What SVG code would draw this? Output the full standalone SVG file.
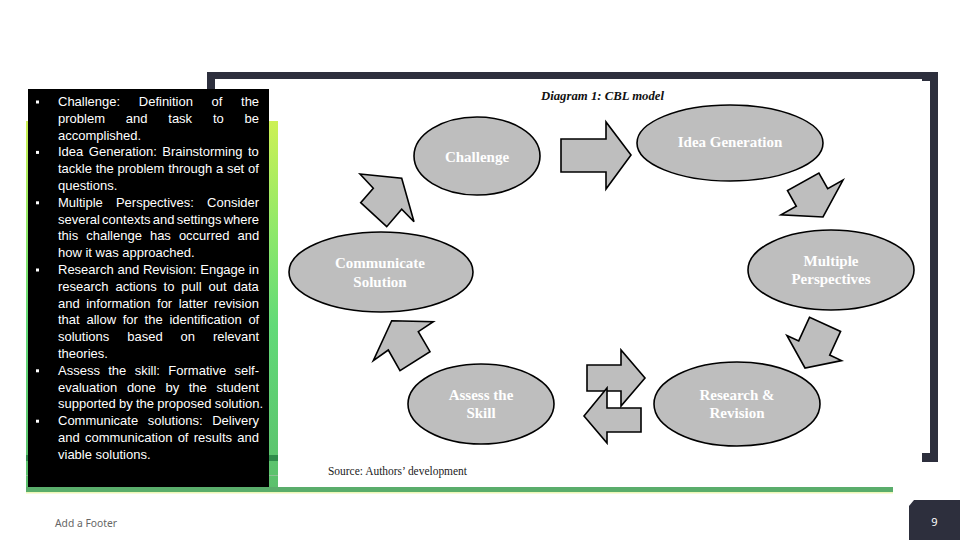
<svg xmlns="http://www.w3.org/2000/svg" width="960" height="540" viewBox="0 0 960 540">
  <defs>
    <linearGradient id="gr" x1="0" y1="0" x2="0" y2="1">
      <stop offset="0" stop-color="#cdf155"/>
      <stop offset="0.3" stop-color="#8ee86a"/>
      <stop offset="0.55" stop-color="#62da78"/>
      <stop offset="1" stop-color="#5bbf6c"/>
    </linearGradient>
    <style>
      .node ellipse { fill: #bebebe; stroke: #000; stroke-width: 1.6; }
      .node text { font-family: "Liberation Serif", serif; font-weight: bold; font-size: 15px; fill: #fff; text-anchor: middle; }
      .arr { fill: #bebebe; stroke: #000; stroke-width: 1.6; stroke-linejoin: miter; }
      .bl { font-family: "Liberation Sans", Arial, sans-serif; font-size: 13px; fill: #fff; }
      .bul { fill: #fff; }
      .frame { fill: #2d2f3d; }
    </style>
  </defs>
  <rect width="960" height="540" fill="#fff"/>

  <!-- green decorative panel -->
  <rect x="26" y="121" width="867" height="371" fill="url(#gr)"/>
  <rect x="26" y="455" width="867" height="6" fill="#2f8c4b"/>
  <rect x="26" y="475" width="867" height="1" fill="#8fbf95"/>
  <rect x="26" y="487" width="867" height="5" fill="#5aad6b"/>
  <rect x="26" y="492" width="867" height="1.5" fill="#eef7b8"/>

  <!-- dark frame -->
  <g id="frame" class="frame">
    <rect x="207" y="72" width="731" height="7"/>
    <rect x="207" y="72" width="8" height="390"/>
    <rect x="930" y="72" width="8" height="390"/>
    <rect x="922" y="453" width="16" height="9"/>
    <rect x="922" y="72" width="16" height="9"/>
  </g>

  <!-- picture -->
  <rect x="278" y="80" width="644" height="407" fill="#fff"/>
  <text x="602.5" y="100" font-family="Liberation Serif, serif" font-weight="bold" font-style="italic" font-size="13" fill="#111" text-anchor="middle" textLength="123" lengthAdjust="spacingAndGlyphs">Diagram 1: CBL model</text>
  <text x="328" y="475" font-family="Liberation Serif, serif" font-size="11.5" fill="#222" textLength="139" lengthAdjust="spacingAndGlyphs">Source: Authors’ development</text>

  <g id="connectors">
    <polygon class="arr" points="561,139 606,139 606,122 631,155 606,189 606,172 561,172"/>
    <polygon class="arr" points="787.5,190.6 796.3,206.3 781,214.9 823,217 843,180.1 827.7,188.7 818.9,173"/>
    <polygon class="arr" points="809.6,317.2 798.7,340.9 786.9,335.4 805,368 841.5,360.6 829.7,355.1 840.6,331.4"/>
    <polygon class="arr" points="587,365 621,365 621,350 645,378 621,406 621,391 587,391"/>
    <polygon class="arr" points="641,408 607,408 607,388 584,416 607,443 607,432 641,432"/>
    <polygon class="arr" points="391.7,320.7 433.3,321.7 418.3,331.7 430,351.7 400,370.7 388.3,350 373.3,360.7"/>
    <polygon class="arr" points="360,174 401.7,178.3 414,221.7 401.7,209.3 386.7,226.7 360.7,202.7 373.3,188.3"/>
  </g>

  <g id="challenge" class="node">
    <ellipse cx="477" cy="156" rx="63" ry="39"/>
    <text x="477" y="162">Challenge</text>
  </g>
  <g id="idea-generation" class="node">
    <ellipse cx="730" cy="143" rx="93" ry="38"/>
    <text x="730" y="147">Idea Generation</text>
  </g>
  <g id="multiple-perspectives" class="node">
    <ellipse cx="831" cy="270" rx="83" ry="40"/>
    <text x="831" y="266">Multiple</text>
    <text x="831" y="284">Perspectives</text>
  </g>
  <g id="research-revision" class="node">
    <ellipse cx="737" cy="404" rx="83" ry="42"/>
    <text x="737" y="400">Research &amp;</text>
    <text x="737" y="418">Revision</text>
  </g>
  <g id="assess-skill" class="node">
    <ellipse cx="481" cy="404" rx="73" ry="40"/>
    <text x="481" y="400">Assess the</text>
    <text x="481" y="418">Skill</text>
  </g>
  <g id="communicate-solution" class="node">
    <ellipse cx="381" cy="272" rx="92" ry="40"/>
    <text x="380" y="268">Communicate</text>
    <text x="380" y="287">Solution</text>
  </g>

  <!-- black text box -->
  <g id="textbox">
    <rect x="28" y="89" width="241" height="398" fill="#000"/>
    <rect class="bul" x="36" y="100.5" width="3" height="3"/>
    <rect class="bul" x="36" y="150.9" width="3" height="3"/>
    <rect class="bul" x="36" y="201.3" width="3" height="3"/>
    <rect class="bul" x="36" y="268.5" width="3" height="3"/>
    <rect class="bul" x="36" y="369.3" width="3" height="3"/>
    <rect class="bul" x="36" y="419.7" width="3" height="3"/>
    <g class="bl">
      <text x="58" y="106" word-spacing="15">Challenge: Definition of the</text>
      <text x="58" y="122.8" word-spacing="17.2">problem and task to be</text>
      <text x="58" y="139.6">accomplished.</text>
      <text x="58" y="156.4" word-spacing="1.9">Idea Generation: Brainstorming to</text>
      <text x="58" y="173.2" word-spacing="0.1">tackle the problem through a set of</text>
      <text x="58" y="190">questions.</text>
      <text x="58" y="206.8" word-spacing="9.5">Multiple Perspectives: Consider</text>
      <text x="58" y="223.6" word-spacing="-1.4">several contexts and settings where</text>
      <text x="58" y="240.4" word-spacing="4.4">this challenge has occurred and</text>
      <text x="58" y="257.2">how it was approached.</text>
      <text x="58" y="274" word-spacing="0.2">Research and Revision: Engage in</text>
      <text x="58" y="290.8" word-spacing="3.3">research actions to pull out data</text>
      <text x="58" y="307.6" word-spacing="2.9">and information for latter revision</text>
      <text x="58" y="324.4" word-spacing="3.1">that allow for the identification of</text>
      <text x="58" y="341.2" word-spacing="14.3">solutions based on relevant</text>
      <text x="58" y="358">theories.</text>
      <text x="58" y="374.8" word-spacing="4.75">Assess the skill: Formative self-</text>
      <text x="58" y="391.6" word-spacing="6">evaluation done by the student</text>
      <text x="58" y="408.4" word-spacing="-0.4">supported by the proposed solution.</text>
      <text x="58" y="425.2" word-spacing="5.9">Communicate solutions: Delivery</text>
      <text x="58" y="442" word-spacing="1.65">and communication of results and</text>
      <text x="58" y="458.8">viable solutions.</text>
    </g>
  </g>

  <!-- footer -->
  <text x="55" y="527" font-family="Noto Sans, sans-serif" font-size="10.5" fill="#666" textLength="62" lengthAdjust="spacingAndGlyphs">Add a Footer</text>
  <g id="page-number">
    <polygon points="914,500 960,500 960,540 909,540 909,506" fill="#2d2f3d"/>
    <text x="934.5" y="526" font-family="Noto Sans, sans-serif" font-size="11" fill="#fff" text-anchor="middle">9</text>
  </g>
</svg>
